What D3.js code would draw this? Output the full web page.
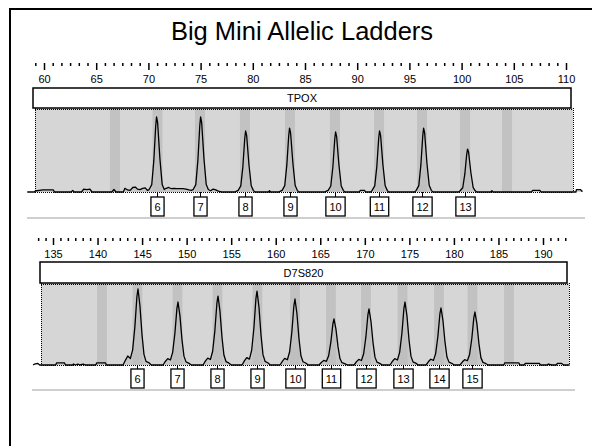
<!DOCTYPE html>
<html>
<head>
<meta charset="utf-8">
<script src="https://cdn.jsdelivr.net/npm/d3@7"></script>
<style>
body{margin:0;background:#fff;}
svg{display:block;font-family:"Liberation Sans",Arial,sans-serif;}
</style>
</head>
<body>
<script>
//chart title
var titleText = "Big Mini Allelic Ladders";

//---- top panel data (TPOX) ----
var topLocus = "TPOX";
var topTicks = [60, 65, 70, 75, 80, 85, 90, 95, 100, 105, 110];
var topBins = [66.8, 70.87, 74.94, 79.25, 83.56, 87.87, 92.09, 96.21, 100.33, 104.35];
var topAlleles = ["6", "7", "8", "9", "10", "11", "12", "13"];
var topAlleleBp = [70.87, 74.94, 79.25, 83.56, 87.87, 92.09, 96.21, 100.33];
//trace points: [size in bp, signal]
var topTrace = [
    [58.4,0],[59.1,0],[59.15,12],[59.9,25],[60.9,25],[61.0,0],[62.6,0],[62.75,20],[62.9,0],
    [63.6,0],[63.8,35],[64.1,30],[64.4,35],[64.6,0],[66.5,0],[66.7,30],[66.9,0],
    [67.6,0],[67.75,45],[68.0,25],[68.25,20],[68.5,55],[68.75,60],[68.95,35],[69.2,30],
    [69.45,45],[69.7,50],[69.9,20],
    [70.07,30],[70.32,90],[70.52,385],[70.70,805],[70.78,915],[70.88,850],[71.10,410],[71.32,90],[71.52,30],
    [71.7,45],[71.95,55],[72.2,40],[72.45,45],[72.7,40],[73.0,40],[73.3,40],[73.6,35],[73.9,25],[74.1,20],
    [74.29,30],[74.54,90],[74.74,385],[74.92,805],[75.0,915],[75.1,850],[75.32,410],[75.54,90],[75.74,30],
    [75.95,15],[76.2,35],[76.45,25],[76.7,10],[77.0,0],[78.3,0],[78.45,10],
    [78.60,20],[78.85,75],[79.05,310],[79.23,655],[79.31,744],[79.41,690],[79.63,335],[79.85,75],[80.05,20],
    [80.2,0],[81.5,0],[81.6,15],[81.7,0],[82.5,0],[82.65,10],
    [82.81,20],[83.06,78],[83.26,330],[83.44,685],[83.52,780],[83.62,720],[83.84,350],[84.06,78],[84.26,20],
    [84.4,0],[86.9,0],[87.05,10],
    [87.22,20],[87.47,73],[87.67,305],[87.85,645],[87.93,732],[88.03,675],[88.25,330],[88.47,73],[88.67,20],
    [88.8,0],[90.2,0],[90.3,20],[90.7,20],[90.8,0],[91.3,0],
    [91.43,20],[91.68,75],[91.88,310],[92.06,655],[92.14,744],[92.24,690],[92.46,335],[92.68,75],[92.88,20],
    [93.0,0],[95.5,0],
    [95.65,20],[95.90,78],[96.10,330],[96.28,685],[96.36,780],[96.46,720],[96.68,350],[96.90,78],[97.10,20],
    [97.25,0],[99.7,0],
    [99.86,15],[100.11,52],[100.31,220],[100.49,460],[100.57,524],[100.67,485],[100.89,235],[101.11,52],[101.31,15],
    [101.45,0],[102.8,0],[102.9,15],[103.0,0],[106.7,0],[106.8,20],[107.5,20],[107.6,0],
    [110.95,0],[111.0,30],[111.4,30],[111.5,10],[111.6,10]
];

//---- bottom panel data (D7S820) ----
var botLocus = "D7S820";
var botTicks = [135, 140, 145, 150, 155, 160, 165, 170, 175, 180, 185, 190];
var botBins = [140.5, 144.48, 148.97, 153.46, 157.95, 162.16, 166.2, 170.13, 174.23, 178.32, 182.08, 186.18];
var botAlleles = ["6", "7", "8", "9", "10", "11", "12", "13", "14", "15"];
var botAlleleBp = [144.48, 148.97, 153.46, 157.95, 162.16, 166.2, 170.13, 174.23, 178.32, 182.08];
var botTrace = [
    [132.76,0],[133.0,15],[133.3,20],[133.5,0],[135.3,0],[135.4,25],[136.3,25],[136.4,0],
    [137.2,0],[137.3,12],[137.5,0],[137.8,12],[138.0,0],[138.4,12],[138.6,0],
    [139.8,0],[139.9,25],[140.9,25],[141.0,0],
    [142.86,0],[143.14,60],[143.39,110],[143.69,80],[143.94,185],[144.19,465],[144.42,835],[144.54,927],
    [144.64,835],[144.76,720],[144.99,370],[145.21,130],[145.44,45],[145.74,30],[146.04,0],
    [147.35,0],[147.63,46],[147.88,77],[148.18,61],[148.43,154],[148.68,384],[148.91,691],[149.03,768],
    [149.13,691],[149.25,599],[149.48,307],[149.70,108],[149.93,38],[150.23,23],[150.53,0],
    [151.84,0],[152.12,50],[152.37,84],[152.67,67],[152.92,168],[153.17,420],[153.40,757],[153.52,841],
    [153.62,757],[153.74,656],[153.97,336],[154.19,118],[154.42,42],[154.72,25],[155.02,0],
    [156.22,0],[156.50,54],[156.75,90],[157.05,72],[157.30,180],[157.55,451],[157.78,812],[157.90,902],
    [158.00,812],[158.12,704],[158.35,361],[158.57,126],[158.80,45],[159.10,27],[159.40,0],
    [160.48,0],[160.76,48],[161.01,81],[161.31,64],[161.56,161],[161.81,403],[162.04,725],[162.16,805],
    [162.26,725],[162.38,628],[162.61,322],[162.83,113],[163.06,40],[163.36,24],[163.66,0],
    [164.86,0],[165.14,34],[165.39,56],[165.69,45],[165.94,112],[166.19,281],[166.42,505],[166.54,561],
    [166.64,505],[166.76,438],[166.99,224],[167.21,79],[167.44,28],[167.74,17],[168.04,0],
    [168.79,0],[169.07,41],[169.32,68],[169.62,55],[169.87,137],[170.12,342],[170.35,615],[170.47,683],
    [170.57,615],[170.69,533],[170.92,273],[171.14,96],[171.37,34],[171.67,20],[171.97,0],
    [172.83,0],[173.11,46],[173.36,77],[173.66,61],[173.91,154],[174.16,384],[174.39,691],[174.51,768],
    [174.61,691],[174.73,599],[174.96,307],[175.18,108],[175.41,38],[175.71,23],[176.01,0],
    [176.87,0],[177.15,42],[177.40,70],[177.70,56],[177.95,139],[178.20,348],[178.43,626],[178.55,695],
    [178.65,626],[178.77,542],[179.00,278],[179.22,97],[179.45,35],[179.75,21],[180.05,0],
    [180.68,0],[180.96,39],[181.21,65],[181.51,52],[181.76,129],[182.01,323],[182.24,581],[182.36,646],
    [182.46,581],[182.58,504],[182.81,258],[183.03,90],[183.26,32],[183.56,19],[183.86,0],
    [185.6,0],[185.7,25],[187.3,25],[187.4,0],[187.9,0],[188.0,20],[189.6,20],[189.7,0],
    [190.5,0],[190.6,12],[191.0,0],[191.5,0],[191.6,20],[192.1,20],[192.3,0],[193.0,0]
];

//page size
var width = 592, height = 446;

var svg = d3.select("body")
    .append("svg")
    .attr("width", width)
    .attr("height", height);

//outer frame (left and top edges visible)
svg.append("path")
    .attr("d", "M10,446V9H592")
    .attr("fill", "none")
    .attr("stroke", "#000")
    .attr("stroke-width", 2);

//title
svg.append("text")
    .attr("x", 302)
    .attr("y", 40)
    .attr("text-anchor", "middle")
    .style("font-size", "25.5px")
    .text(titleText);

//panel layouts
var topPanel = {
    locus: topLocus, ticks: topTicks, bins: topBins, binHalf: 0.48,
    alleles: topAlleles, alleleBp: topAlleleBp, trace: topTrace,
    domain: [60, 110], range: [44, 566],
    axisY: 63, boxX: [33, 571], boxY: [88, 108], plotX: [35, 573],
    baseY: 192, alleleY: 197, lineY: 218, lineX: [27, 585]
};
var botPanel = {
    locus: botLocus, ticks: botTicks, bins: botBins, binHalf: 0.55,
    alleles: botAlleles, alleleBp: botAlleleBp, trace: botTrace,
    domain: [135, 190], range: [53, 543],
    axisY: 238, boxX: [40, 567], boxY: [262, 283], plotX: [41, 569],
    baseY: 365, alleleY: 369, lineY: 390, lineX: [32, 575]
};

drawPanel(topPanel);
drawPanel(botPanel);

function drawPanel(p){
    var x = d3.scaleLinear().domain(p.domain).range(p.range);
    var y = d3.scaleLinear().domain([0, 1000]).range([p.baseY, p.baseY - 82]);

    var g = svg.append("g");

    //minor ticks: five between each labelled size
    var step = 5 / 6;
    var minor = [];
    var first = p.ticks[0] - 2 * step;
    var last = x.invert(p.plotX[1] - 2);
    for (var v = first; v <= last + 0.001; v += step){
        var isMajor = p.ticks.some(function(t){ return Math.abs(t - v) < 0.01; });
        if (!isMajor && x(v) > p.plotX[0] - 5) minor.push(v);
    }

    g.append("g")
        .attr("transform", "translate(0," + p.axisY + ")")
        .call(d3.axisBottom(x).tickValues(minor).tickSize(3).tickFormat(""))
        .call(function(a){ a.select(".domain").remove(); })
        .selectAll("line").attr("stroke-width", 1.5);

    g.append("g")
        .attr("transform", "translate(0," + p.axisY + ")")
        .call(d3.axisBottom(x).tickValues(p.ticks).tickSize(7).tickFormat(""))
        .call(function(a){ a.select(".domain").remove(); })
        .selectAll("line").attr("stroke-width", 1.5);

    var labels = g.append("g")
        .attr("transform", "translate(0," + p.axisY + ")")
        .call(d3.axisBottom(x).tickValues(p.ticks).tickSize(0).tickPadding(12))
        .call(function(a){ a.select(".domain").remove(); });
    labels.attr("font-family", null).attr("font-size", null);
    labels.selectAll("text").style("font-size", "11px").attr("fill", "#000");

    //plot background
    g.append("rect")
        .attr("x", p.plotX[0])
        .attr("y", p.boxY[1])
        .attr("width", p.plotX[1] - p.plotX[0])
        .attr("height", p.baseY - p.boxY[1])
        .attr("fill", "#d6d6d6");

    //allele bins
    g.selectAll(".bin")
        .data(p.bins)
        .enter()
        .append("rect")
        .attr("class", "bin")
        .attr("x", function(d){ return x(d - p.binHalf); })
        .attr("y", p.boxY[1])
        .attr("width", function(d){ return x(d + p.binHalf) - x(d - p.binHalf); })
        .attr("height", p.baseY - p.boxY[1])
        .attr("fill", "#c2c2c2");

    //dotted frame of the plot
    var dots = g.append("g")
        .attr("fill", "none")
        .attr("stroke", "#000")
        .attr("stroke-dasharray", "1,1");
    dots.append("line")
        .attr("x1", p.plotX[0] + 0.5).attr("x2", p.plotX[0] + 0.5)
        .attr("y1", p.boxY[1]).attr("y2", p.baseY);
    dots.append("line")
        .attr("x1", p.plotX[1] + 0.5).attr("x2", p.plotX[1] + 0.5)
        .attr("y1", p.boxY[1]).attr("y2", p.baseY);
    dots.append("line")
        .attr("x1", p.plotX[0]).attr("x2", p.plotX[1])
        .attr("y1", p.boxY[1] + 1.5).attr("y2", p.boxY[1] + 1.5);
    dots.append("line")
        .attr("x1", p.plotX[0]).attr("x2", p.plotX[1])
        .attr("y1", p.baseY + 0.5).attr("y2", p.baseY + 0.5);

    //area under the trace
    var area = d3.area()
        .x(function(d){ return x(d[0]); })
        .y0(y(0))
        .y1(function(d){ return y(d[1]); });
    g.append("path")
        .datum(p.trace)
        .attr("d", area)
        .attr("fill", "#bdbdbd")
        .attr("fill-opacity", 0.6);

    //trace
    var line = d3.line()
        .x(function(d){ return x(d[0]); })
        .y(function(d){ return y(d[1]); });
    g.append("path")
        .datum(p.trace)
        .attr("d", line)
        .attr("fill", "none")
        .attr("stroke", "#000")
        .attr("stroke-width", 1.3)
        .attr("stroke-linejoin", "round");

    //locus title box
    g.append("rect")
        .attr("x", p.boxX[0])
        .attr("y", p.boxY[0])
        .attr("width", p.boxX[1] - p.boxX[0])
        .attr("height", p.boxY[1] - p.boxY[0])
        .attr("fill", "#fff")
        .attr("stroke", "#000")
        .attr("stroke-width", 1.5);
    g.append("text")
        .attr("x", (p.boxX[0] + p.boxX[1]) / 2)
        .attr("y", (p.boxY[0] + p.boxY[1]) / 2 + 4)
        .attr("text-anchor", "middle")
        .style("font-size", "11px")
        .text(p.locus);

    //allele call boxes
    var calls = g.selectAll(".call")
        .data(p.alleles)
        .enter()
        .append("g")
        .attr("class", "call")
        .attr("transform", function(d, i){
            return "translate(" + Math.round(x(p.alleleBp[i])) + ",0)";
        });
    calls.append("line")
        .attr("x1", 0.5).attr("x2", 0.5)
        .attr("y1", p.baseY).attr("y2", p.alleleY)
        .attr("stroke", "#000");
    var txt = calls.append("text")
        .attr("x", 0.5)
        .attr("y", p.alleleY + 14)
        .attr("text-anchor", "middle")
        .attr("fill", "#000")
        .style("font-size", "11px")
        .text(function(d){ return d; });
    calls.insert("rect", "text")
        .each(function(d, i){
            var w = txt.nodes()[i].getComputedTextLength() + 7;
            d3.select(this)
                .attr("x", 0.5 - w / 2)
                .attr("y", p.alleleY)
                .attr("width", w)
                .attr("height", 19);
        })
        .attr("fill", "#fff")
        .attr("stroke", "#000")
        .attr("stroke-width", 1.3);

    //separator line
    g.append("line")
        .attr("x1", p.lineX[0]).attr("x2", p.lineX[1])
        .attr("y1", p.lineY).attr("y2", p.lineY)
        .attr("stroke", "#bfbfbf")
        .attr("stroke-width", 1.5);
}
</script>
</body>
</html>
